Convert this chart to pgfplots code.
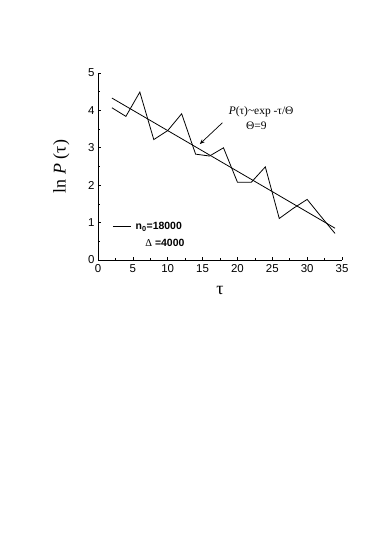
\documentclass[border=0pt]{standalone}
\usepackage{pgfplots}
\pgfplotsset{compat=1.18}
\usetikzlibrary{arrows.meta}
\usepackage{fontspec}
\setmainfont{Liberation Serif}
\newfontfamily\arial{Liberation Sans}
\begin{document}
\begin{tikzpicture}
\path[use as bounding box] (0,0) rectangle (374bp,539bp);
\begin{axis}[
  at={(98bp,279bp)}, anchor=south west,
  scale only axis, width=244bp, height=187bp,
  xmin=0, xmax=35, ymin=0, ymax=5,
  axis x line*=bottom, axis y line*=left,
  axis line style={-, line width=0.7pt},
  xtick={0,5,...,35}, ytick={0,1,...,5},
  minor x tick num=1, minor y tick num=1,
  tick align=inside,
  major tick length=3.5pt, minor tick length=2.5pt,
  tick style={line width=0.6pt, black},
  /pgf/number format/assume math mode=true,
  ticklabel style={font=\arial\fontsize{11.5}{12}\selectfont},
  xticklabel style={yshift=-1pt},
  ylabel={ln \textit{P} (τ)},
  xlabel={τ},
  ylabel style={font=\fontsize{18}{19}\selectfont, at={(axis description cs:-0.15,0.5)}, anchor=center},
  xlabel style={font=\fontsize{18}{19}\selectfont, at={(axis description cs:0.5,-0.165)}, anchor=center},
  clip=false,
]
\addplot[black, line width=0.8pt] coordinates {
(2,4.07)(4,3.84)(6,4.49)(8,3.22)(10,3.46)(12,3.91)(14,2.83)(16,2.78)(18,3.0)(20,2.08)(22,2.08)(24,2.49)(26,1.11)(28,1.38)(30,1.62)(32,1.16)(34,0.71)
};
\addplot[black, line width=0.8pt] coordinates {(2,4.33)(34,0.85)};
\node[font=\fontsize{11.5}{12}\selectfont] at (axis cs:23.4,3.96) {\textit{P}(τ)\textasciitilde exp -τ/Θ};
\node[font=\fontsize{11.5}{12}\selectfont] at (axis cs:22.7,3.59) {Θ=9};
\draw[-{Stealth[length=5pt,width=4pt]}, line width=0.7pt] (axis cs:17.85,3.67) -- (axis cs:14.6,3.1);
\draw[line width=0.8pt] (axis cs:2.15,0.89) -- (axis cs:4.78,0.89);
\node[anchor=west, font=\arial\bfseries\fontsize{10.5}{11}\selectfont] at (axis cs:4.9,0.89) {n\textsubscript{0}=18000};
\node[anchor=west, font=\arial\bfseries\fontsize{10.5}{11}\selectfont] at (axis cs:6.3,0.45) {{\normalfont\rmfamily Δ} =4000};
\end{axis}
\end{tikzpicture}
\end{document}
